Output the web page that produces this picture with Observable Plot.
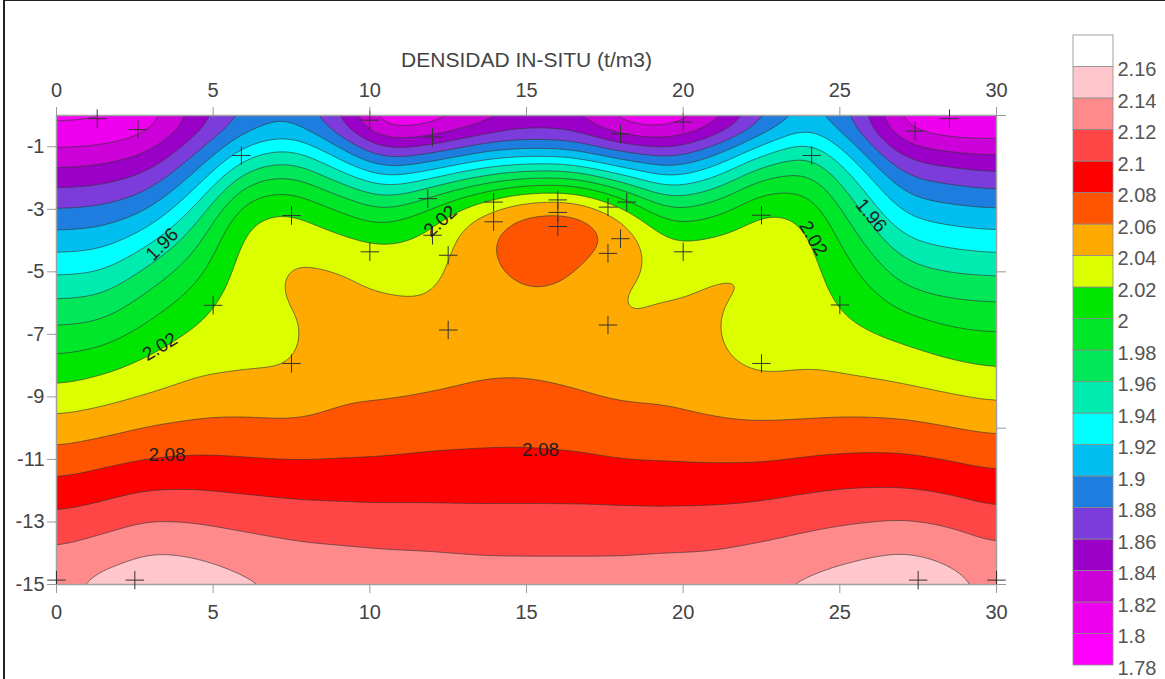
<!DOCTYPE html>
<html><head><meta charset="utf-8">
<script src="https://cdn.jsdelivr.net/npm/d3@7"></script>
<script src="https://cdn.jsdelivr.net/npm/@observablehq/plot@0.6"></script>
<style>
html,body{margin:0;padding:0;background:#fff;overflow:hidden;}
#wrap{position:relative;width:1165px;height:679px;overflow:hidden;font-family:"Liberation Sans",Arial,sans-serif;}
#main{position:absolute;left:0;top:0;}
#legend{position:absolute;left:1050px;top:0;}
#border{position:absolute;left:3px;top:0;width:1162px;height:679px;border-left:2px solid #222;border-top:1px solid #222;box-sizing:border-box;pointer-events:none;}
</style></head><body>
<div id="wrap"><div id="main"></div><div id="legend"></div><div id="border"></div></div>
<script>
// ---- data ----
const titleText = ["DENSIDAD IN-SITU (t/m3)"];
const distances = [0, 1.5, 3, 4.5, 6, 7.5, 9, 10.5, 12, 13.5, 15, 16.5, 18, 19.5, 21, 22.5, 24, 25.5, 27, 28.5, 30];
const depths = [0, -1, -2, -3, -4, -5, -6, -7, -8, -9, -10, -11, -12, -13, -14, -15];
// density (t/m3) at each depth, one value per distance
const dens00 = [1.788, 1.788, 1.801, 1.841, 1.875, 1.885, 1.850, 1.785, 1.790, 1.810, 1.830, 1.830, 1.790, 1.785, 1.810, 1.860, 1.898, 1.870, 1.799, 1.785, 1.787];
const dens01 = [1.818, 1.822, 1.833, 1.873, 1.922, 1.940, 1.901, 1.852, 1.864, 1.886, 1.891, 1.885, 1.864, 1.855, 1.884, 1.928, 1.957, 1.903, 1.844, 1.834, 1.832];
const dens02 = [1.850, 1.853, 1.867, 1.907, 1.975, 1.986, 1.955, 1.923, 1.941, 1.964, 1.979, 1.982, 1.949, 1.921, 1.941, 1.984, 1.991, 1.941, 1.884, 1.875, 1.866];
const dens03 = [1.881, 1.884, 1.898, 1.947, 2.017, 2.025, 2.004, 1.981, 2.012, 2.045, 2.072, 2.074, 2.040, 1.981, 1.996, 2.026, 2.018, 1.965, 1.914, 1.905, 1.903];
const dens04 = [1.909, 1.912, 1.936, 1.975, 2.028, 2.035, 2.027, 2.019, 2.025, 2.058, 2.073, 2.073, 2.058, 2.024, 2.026, 2.034, 2.024, 1.987, 1.943, 1.934, 1.928];
const dens05 = [1.937, 1.940, 1.968, 1.994, 2.030, 2.046, 2.044, 2.034, 2.033, 2.054, 2.066, 2.062, 2.041, 2.031, 2.041, 2.044, 2.028, 2.003, 1.969, 1.959, 1.957];
const dens06 = [1.964, 1.967, 1.990, 2.011, 2.032, 2.042, 2.045, 2.043, 2.041, 2.053, 2.056, 2.054, 2.035, 2.0405, 2.042, 2.034, 2.031, 2.014, 1.993, 1.984, 1.981];
const dens07 = [1.986, 1.990, 2.009, 2.025, 2.034, 2.037, 2.049, 2.048, 2.047, 2.055, 2.055, 2.054, 2.042, 2.046, 2.041, 2.030, 2.033, 2.023, 2.016, 2.005, 2.002];
const dens08 = [2.007, 2.015, 2.026, 2.036, 2.037, 2.037, 2.053, 2.053, 2.053, 2.057, 2.057, 2.056, 2.049, 2.052, 2.043, 2.035, 2.038, 2.035, 2.031, 2.024, 2.018];
const dens09 = [2.028, 2.034, 2.042, 2.049, 2.051, 2.049, 2.057, 2.058, 2.061, 2.063, 2.064, 2.061, 2.058, 2.057, 2.053, 2.049, 2.050, 2.050, 2.047, 2.042, 2.037];
const dens10 = [2.048, 2.054, 2.062, 2.065, 2.065, 2.064, 2.067, 2.069, 2.072, 2.073, 2.074, 2.072, 2.069, 2.067, 2.064, 2.063, 2.064, 2.066, 2.066, 2.061, 2.056];
const dens11 = [2.068, 2.075, 2.081, 2.083, 2.081, 2.0795, 2.0805, 2.081, 2.083, 2.084, 2.084, 2.083, 2.079, 2.079, 2.078, 2.078, 2.082, 2.084, 2.084, 2.079, 2.074];
const dens12 = [2.088, 2.094, 2.101, 2.101, 2.098, 2.096, 2.095, 2.095, 2.095, 2.095, 2.095, 2.095, 2.094, 2.093, 2.093, 2.095, 2.099, 2.102, 2.102, 2.098, 2.091];
const dens13 = [2.106, 2.112, 2.121, 2.119, 2.115, 2.111, 2.110, 2.108, 2.108, 2.107, 2.107, 2.107, 2.107, 2.107, 2.108, 2.110, 2.115, 2.119, 2.122, 2.117, 2.108];
const dens14 = [2.123, 2.132, 2.143, 2.139, 2.131, 2.126, 2.124, 2.122, 2.121, 2.119, 2.119, 2.119, 2.119, 2.121, 2.121, 2.125, 2.131, 2.137, 2.143, 2.137, 2.125];
const dens15 = [2.137, 2.150, 2.155, 2.153, 2.146, 2.141, 2.135, 2.134, 2.133, 2.132, 2.131, 2.131, 2.131, 2.132, 2.134, 2.142, 2.146, 2.152, 2.155, 2.148, 2.139];
const densityRows = [dens00, dens01, dens02, dens03, dens04, dens05, dens06, dens07, dens08, dens09, dens10, dens11, dens12, dens13, dens14, dens15];

const levels = [1.80, 1.82, 1.84, 1.86, 1.88, 1.90, 1.92, 1.94, 1.96, 1.98, 2.00, 2.02, 2.04, 2.06, 2.08, 2.10, 2.12, 2.14, 2.16];
const bandColors = ["#ff00ff", "#ee00ee", "#cc00d8", "#9a00c8", "#7c3cdc", "#1e7ee0", "#00bef0", "#00ffff", "#00ebb0", "#00e85a", "#00e628", "#00e600", "#dcff00", "#ffaa00", "#ff5500", "#ff0000", "#ff4646", "#ff8a8c", "#ffc6cc", "#ffffff"];
const legendValues = [1.78, 1.80, 1.82, 1.84, 1.86, 1.88, 1.90, 1.92, 1.94, 1.96, 1.98, 2.00, 2.02, 2.04, 2.06, 2.08, 2.10, 2.12, 2.14, 2.16];
const legendTop = 2.18;

const xTicks = [0, 5, 10, 15, 20, 25, 30];
const yTicks = [-1, -3, -5, -7, -9, -11, -13, -15];
const yTicksRight = [0, -5, -10, -15];

const sampleX = [1.3, 2.6, 5.9, 10.0, 12.0, 18.0, 20.0, 27.4, 28.5, 24.1, 7.5, 11.85, 12.0, 10.0, 12.5, 13.95, 13.95, 16.0, 16.0, 16.0, 17.6, 17.6, 18.0, 18.2, 20.0, 22.5, 25.0, 5.0, 7.5, 12.5, 17.6, 22.5, 0, 2.5, 27.5, 30];
const sampleY = [-0.1, -0.45, -1.28, -0.15, -0.69, -0.59, -0.21, -0.5, -0.1, -1.28, -3.2, -2.66, -3.83, -4.36, -4.47, -2.77, -3.4, -2.7, -3.1, -3.55, -2.93, -4.41, -3.94, -2.77, -4.36, -3.19, -6.06, -6.07, -7.93, -6.86, -6.7, -7.93, -14.86, -14.86, -14.86, -14.86];

const labelText = ["1.96", "2.02", "2.02", "2.02", "1.96", "2.08", "2.08"];
const labelX = [3.37, 3.3, 12.25, 24.15, 26.0, 3.53, 15.45];
const labelY = [-4.12, -7.4, -3.38, -3.93, -3.2, -10.86, -10.7];
const labelAngle = [-45, -31, -42, 60, 50, 0, 0];

// ---- build tables ----
const points = [];
densityRows.forEach((row, i) => row.forEach((v, j) => points.push({x: distances[j], y: depths[i], v})));
const samples = sampleX.map((x, i) => ({x, y: sampleY[i]}));
const labels = labelText.map((t, i) => ({t, x: labelX[i], y: labelY[i], a: labelAngle[i]}));
const boxes = legendValues.map((lo, i) => ({lo, hi: i + 1 < legendValues.length ? legendValues[i + 1] : legendTop}));

const color = {type: "threshold", domain: levels, range: bandColors};
const font = '"Liberation Sans", Arial, sans-serif';
const contourOpts = {
  x: "x", y: "y", interpolate: "barycentric", blur: 8,
  thresholds: [1.70, ...levels], clip: true
};

const main = Plot.plot({
  width: 1050, height: 679,
  marginLeft: 56, marginRight: 54, marginTop: 115, marginBottom: 95,
  x: {domain: [0, 30]},
  y: {domain: [-15, 0]},
  color,
  style: {fontFamily: font, fontSize: "20px", background: "transparent", overflow: "visible"},
  marks: [
    Plot.contour(points, {...contourOpts, fill: "v"}),
    Plot.contour(points, {...contourOpts, value: "v", fill: "none", stroke: "#333", strokeWidth: 0.8, strokeOpacity: 0.8}),
    Plot.frame({stroke: "#a0a0a0", strokeWidth: 1.5}),
    Plot.dot(samples, {x: "x", y: "y", symbol: "plus", r: 6, stroke: "#333", strokeWidth: 1}),
    Plot.text(labels, {x: "x", y: "y", text: "t", rotate: "a", fontSize: 19, fill: "#1e1e1e"}),
    Plot.axisX(xTicks, {anchor: "top", tickSize: 9, tickPadding: 10, color: "#444", stroke: "#999", fontSize: 20, label: null}),
    Plot.axisX(xTicks, {anchor: "bottom", tickSize: 9, tickPadding: 11, color: "#444", stroke: "#999", fontSize: 20, label: null}),
    Plot.axisY(yTicks, {anchor: "left", tickSize: 9, tickPadding: 3, color: "#444", stroke: "#999", fontSize: 20, label: null, tickFormat: d => String(d)}),
    Plot.axisY(yTicksRight, {anchor: "right", tickSize: 9, color: "#444", stroke: "#999", label: null, tickFormat: () => ""}),
    Plot.text(titleText, {frameAnchor: "top", dy: -63, fontSize: 21, fill: "#444", text: d => d})
  ]
});
document.getElementById("main").appendChild(main);

const legend = Plot.plot({
  width: 115, height: 679,
  marginLeft: 23, marginRight: 52, marginTop: 35, marginBottom: 14,
  x: {domain: [0, 1], axis: null},
  y: {domain: [1.78, legendTop]},
  color,
  style: {fontFamily: font, fontSize: "20px", background: "transparent", overflow: "visible"},
  marks: [
    Plot.rect(boxes, {x1: 0, x2: 1, y1: "lo", y2: "hi", fill: "lo", stroke: "#8a8a8a", strokeWidth: 0.8}),
    Plot.axisY(legendValues, {anchor: "right", tickSize: 0, tickPadding: 4, dy: 3, color: "#555", fontSize: 20, label: null, tickFormat: d => String(+d.toFixed(2))})
  ]
});
document.getElementById("legend").appendChild(legend);
</script>
</body></html>
